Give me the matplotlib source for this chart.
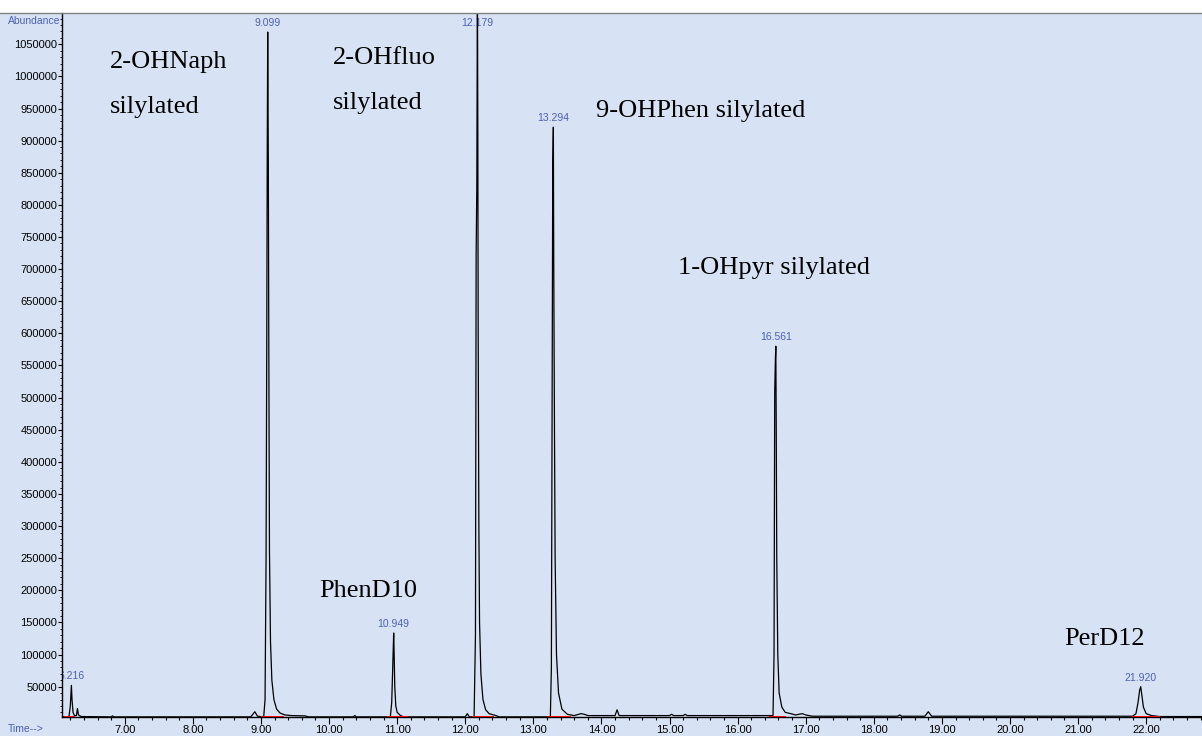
import matplotlib
matplotlib.use("Agg")
import matplotlib.pyplot as plt
from matplotlib.ticker import MultipleLocator, FormatStrFormatter
from matplotlib.lines import Line2D
from matplotlib.patches import Rectangle

# chromatogram trace (time in min, abundance)
time = [6.078, 6.18, 6.20, 6.216, 6.225, 6.24, 6.26, 6.29, 6.305, 6.32, 6.36,
        6.80, 6.82, 6.84, 8.85, 8.91, 8.95, 9.04, 9.06, 9.075, 9.085, 9.092,
        9.099, 9.108, 9.115, 9.125, 9.14, 9.16, 9.19, 9.23, 9.28, 9.35, 9.45,
        9.65, 9.70, 10.35, 10.38, 10.40, 10.90, 10.92, 10.935, 10.943, 10.949,
        10.956, 10.965, 10.98, 11.00, 11.05, 11.10, 12.00, 12.03, 12.06, 12.13,
        12.15, 12.16, 12.17, 12.179, 12.185, 12.19, 12.20, 12.21, 12.23, 12.26,
        12.30, 12.35, 12.45, 12.50, 13.25, 13.265, 13.275, 13.285, 13.294,
        13.30, 13.31, 13.32, 13.34, 13.37, 13.42, 13.50, 13.60, 13.70, 13.75,
        13.80, 14.20, 14.23, 14.26, 15.00, 15.03, 15.06, 15.20, 15.23, 15.26,
        16.52, 16.535, 16.545, 16.555, 16.561, 16.567, 16.575, 16.59, 16.61,
        16.65, 16.70, 16.78, 16.85, 16.95, 17.00, 17.10, 18.35, 18.38, 18.41,
        18.75, 18.80, 18.85, 21.80, 21.85, 21.88, 21.905, 21.92, 21.935, 21.96,
        22.00, 22.08, 22.20, 22.82]
abundance = [3000, 3000, 20000, 52000, 30000, 10000, 5000, 5000, 16000, 6000, 3500,
             3000, 4500, 3000, 3000, 11000, 4000, 3000, 30000, 250000, 580000, 880000,
             1069000, 870000, 580000, 260000, 120000, 60000, 30000, 15000, 9000, 6000, 5000,
             4500, 3000, 3000, 5000, 3000, 3000, 25000, 80000, 110000, 133500,
             100000, 50000, 20000, 10000, 5000, 3000, 3000, 8000, 3000, 3000,
             130000, 720000, 830000, 1150000, 900000, 600000, 300000, 150000, 70000, 30000,
             14000, 8000, 5000, 3000, 3000, 80000, 460000, 860000, 921000,
             700000, 460000, 250000, 100000, 40000, 15000, 7000, 5000, 8000, 7000,
             5000, 5000, 14000, 5000, 5000, 7000, 5000, 5000, 7000, 5000,
             5000, 100000, 510000, 560000, 580000, 460000, 250000, 100000, 40000,
             18000, 10000, 8000, 6000, 8000, 6000, 4000, 4000, 6000, 4000,
             4000, 11000, 4000, 4000, 8000, 25000, 45000, 50000, 38000, 18000,
             8000, 5000, 3500, 3500]

# peak retention times and apex heights
peak_rt = [6.216, 9.099, 10.949, 12.179, 13.294, 16.561, 21.920]
peak_height = [52000, 1069000, 133500, 1069000, 921000, 580000, 50000]

# integration baselines (start, end)
base_start = [6.12, 9.01, 9.17, 10.87, 12.12, 12.27, 13.22, 16.48, 21.80, 21.995]
base_end = [6.26, 9.16, 9.32, 11.14, 12.27, 12.41, 13.54, 16.70, 21.99, 22.19]

# compound annotations
names = ["2-OHNaph", "silylated", "2-OHfluo", "silylated", "9-OHPhen silylated",
         "1-OHpyr silylated", "PhenD10", "PerD12"]
name_t = [6.783, 6.783, 10.058, 10.058, 13.92, 15.12, 9.86, 20.80]
name_y = [1013000, 943000, 1020000, 950000, 937000, 693000, 190000, 115000]

bg = "#d7e3f4"
blue = "#4d5fb5"

fig = plt.figure(figsize=(12.02, 7.36), dpi=100, facecolor=bg)
ax = fig.add_axes([62 / 1202, 1 - 717 / 736, 1 - 62 / 1202, (717 - 13) / 736])
ax.set_facecolor(bg)

ax.plot(time, abundance, color="black", lw=0.9, zorder=3)
for s, e in zip(base_start, base_end):
    ax.plot([s, e], [3500, 3500], color="red", lw=1.4, zorder=4)

for rt, h in zip(peak_rt, peak_height):
    ax.annotate("%.3f" % rt, (rt, h), xytext=(0, 3), textcoords="offset points",
                ha="center", va="bottom", fontsize=7.5, color=blue,
                family="Liberation Sans", clip_on=True, zorder=1)

for n, t, y in zip(names, name_t, name_y):
    ax.text(t, y, n, fontsize=19, family="Liberation Serif", va="baseline",
            ha="left", color="black")

ax.set_xlim(6.078, 22.82)
ax.set_ylim(2800, 1098700)

ax.xaxis.set_major_locator(MultipleLocator(1))
ax.xaxis.set_minor_locator(MultipleLocator(0.2))
ax.xaxis.set_major_formatter(FormatStrFormatter("%.2f"))
ax.set_yticks(range(50000, 1050001, 50000))
ax.yaxis.set_major_formatter(FormatStrFormatter("%d"))
ax.yaxis.set_minor_locator(MultipleLocator(10000))

ax.tick_params(axis="x", which="major", length=5, width=0.8, pad=1, labelsize=8)
ax.tick_params(axis="x", which="minor", length=2.5, width=0.8)
ax.tick_params(axis="y", which="major", length=3, width=0.8, pad=0.5, labelsize=8)
ax.tick_params(axis="y", which="minor", length=1.5, width=0.6)
for lab in ax.get_xticklabels() + ax.get_yticklabels():
    lab.set_family("Liberation Sans")

for side in ["top", "right"]:
    ax.spines[side].set_visible(False)
ax.spines["left"].set_linewidth(1)
ax.spines["bottom"].set_linewidth(1)

# white strip and grey rule at the top of the window
top = 1 - 13 / 736
fig.add_artist(Rectangle((0, top), 1, 1 - top, transform=fig.transFigure,
                         facecolor="white", edgecolor="none", zorder=0))
fig.add_artist(Line2D([0, 1], [top, top], transform=fig.transFigure,
                      color="#808080", lw=1))

fig.text(8 / 1202, 1 - 21 / 736, "Abundance", fontsize=7.5, color=blue,
         family="Liberation Sans", va="center", ha="left")
fig.text(8 / 1202, 1 - 729 / 736, "Time-->", fontsize=7.5, color=blue,
         family="Liberation Sans", va="center", ha="left")

fig.savefig("out.png", dpi=100, facecolor=bg)
